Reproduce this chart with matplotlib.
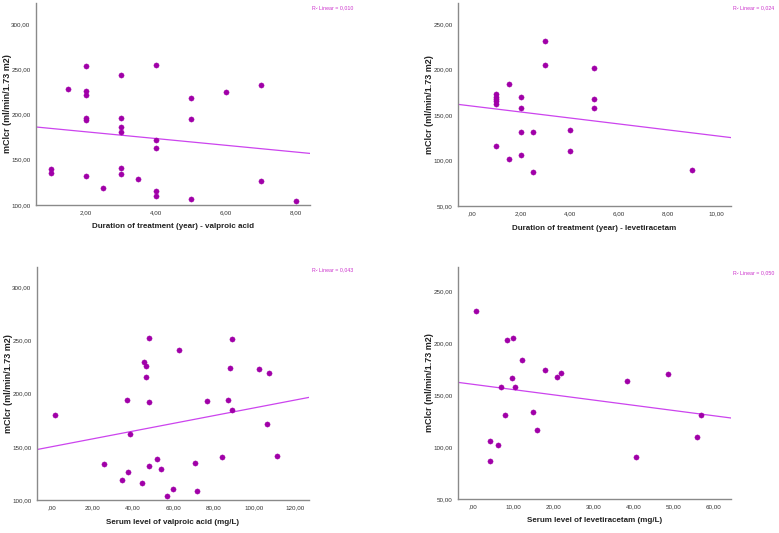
import numpy as np
import matplotlib
matplotlib.use("Agg")
import matplotlib.pyplot as plt

plt.rcParams['font.family'] = ['Liberation Sans', 'DejaVu Sans']

# Panel 1: duration of treatment - valproic acid
vpa_dur_x = [1, 1, 1.5, 2, 2, 2, 2, 2, 2, 2.5, 3, 3, 3, 3, 3, 3, 3.5,
             4, 4, 4, 4, 4, 5, 5, 5, 6, 7, 7, 8]
vpa_dur_y = [140, 135, 228, 254, 226, 221, 196, 194, 132, 119, 243, 196, 186, 181, 141, 134, 129,
             255, 172, 163, 116, 110, 218, 195, 107, 225, 232, 126, 104]

# Panel 2: duration of treatment - levetiracetam
lev_dur_x = [1, 1, 1, 1, 1, 1, 1.5, 1.5, 2, 2, 2, 2, 2.5, 2.5, 3, 3, 4, 4, 5, 5, 5, 9]
lev_dur_y = [173, 170, 167, 165, 162, 116, 184, 102, 170, 158, 131, 106, 131, 87,
             231, 205, 134, 110, 202, 167, 158, 90]

# Panel 3: serum level of valproic acid
vpa_lvl_x = [1.5, 25.8, 34.8, 37.8, 37.3, 38.9, 44.8, 45.5, 46.8, 46.8, 47.9, 47.9, 47.9,
             51.9, 54, 57, 59.8, 62.9, 70.9, 71.9, 76.8, 83.9, 87, 88, 89, 89.2,
             102.1, 106.2, 107.2, 111.2]
vpa_lvl_y = [180, 134, 119, 126, 194, 162, 116, 230, 226, 216, 252, 192, 132,
             139, 129, 104, 110, 241, 135, 108, 193, 140, 194, 224, 251, 185,
             223, 171, 219, 141]

# Panel 4: serum level of levetiracetam
lev_lvl_x = [0.8, 4.25, 4.25, 6.2, 7.0, 7.9, 8.4, 9.6, 9.9, 10.4, 12.2, 14.9, 16, 17.9,
             21, 21.9, 38.4, 40.5, 48.6, 55.75, 56.75]
lev_lvl_y = [231, 106, 87, 102, 158, 131, 203, 166, 205, 158, 184, 134, 116, 174,
             167, 171, 163, 90, 170, 110, 131]

r2_labels = ["R² Linear = 0,010", "R² Linear = 0,024", "R² Linear = 0,043", "R² Linear = 0,050"]
xlabels = ["Duration of treatment (year) - valproic acid",
           "Duration of treatment (year) - levetiracetam",
           "Serum level of valproic acid (mg/L)",
           "Serum level of levetiracetam (mg/L)"]
ylabel = "mClcr (ml/min/1.73 m2)"

W, H = 779, 533
fig = plt.figure(figsize=(W / 100, H / 100), dpi=100)
fig.patch.set_facecolor('white')


def fmt(v, pos=None):
    s = f"{v:.2f}".replace('.', ',')
    if s.startswith('0,'):
        s = s[1:]
    return s


panels = [
    dict(rect=(36, 3, 310, 205), x=vpa_dur_x, y=vpa_dur_y, xlim=(0.58, 8.4), ylim=(100, 323),
         xt=[2, 4, 6, 8], yt=[100, 150, 200, 250, 300], r2pos=(312, 8)),
    dict(rect=(458, 3, 731, 206), x=lev_dur_x, y=lev_dur_y, xlim=(-0.575, 10.6), ylim=(50, 273),
         xt=[0, 2, 4, 6, 8, 10], yt=[50, 100, 150, 200, 250], r2pos=(733, 8)),
    dict(rect=(37, 267, 309, 500), x=vpa_lvl_x, y=vpa_lvl_y, xlim=(-7.2, 127), ylim=(100, 319),
         xt=[0, 20, 40, 60, 80, 100, 120], yt=[100, 150, 200, 250, 300], r2pos=(312, 270)),
    dict(rect=(458, 267, 731, 499), x=lev_lvl_x, y=lev_lvl_y, xlim=(-3.75, 64.3), ylim=(50, 273),
         xt=[0, 10, 20, 30, 40, 50, 60], yt=[50, 100, 150, 200, 250], r2pos=(733, 273)),
]

for i, p in enumerate(panels):
    l, t, r, b = p['rect']
    wpx, hpx = r - l, b - t
    ax = fig.add_axes([l / W, 1 - b / H, wpx / W, hpx / H])
    x = np.array(p['x'], dtype=float)
    y = np.array(p['y'], dtype=float)
    ax.scatter(x, y, s=14, color='#a000a8', edgecolors='#a000a8', linewidths=0.3, zorder=3)
    k, c = np.polyfit(x, y, 1)
    xs = np.array(p['xlim'])
    ax.plot(xs, k * xs + c, color='#cc44ee', lw=0.9, zorder=2)
    ax.set_xlim(*p['xlim'])
    ax.set_ylim(*p['ylim'])
    ax.set_xticks(p['xt'])
    ax.set_yticks(p['yt'])
    ax.xaxis.set_major_formatter(plt.FuncFormatter(fmt))
    ax.yaxis.set_major_formatter(plt.FuncFormatter(fmt))
    ax.tick_params(length=0, labelsize=4.5, colors='#333333', pad=4)
    for s in ['top', 'right']:
        ax.spines[s].set_visible(False)
    for s in ['left', 'bottom']:
        ax.spines[s].set_color('#8a8a8a')
        ax.spines[s].set_linewidth(1.0)
    ax.set_xlabel(xlabels[i], fontsize=5.8, fontweight='bold', color='#222222', va='center')
    ax.xaxis.set_label_coords(0.5, -22 / hpx)
    ax.set_ylabel(ylabel, fontsize=6.5, fontweight='bold', color='#222222', va='center')
    ax.yaxis.set_label_coords(-28 / wpx, 0.5)
    fig.text(p['r2pos'][0] / W, 1 - p['r2pos'][1] / H, r2_labels[i], fontsize=3.8,
             color='#cc33cc', ha='left', va='center')

fig.savefig('out.png', dpi=100, facecolor='white')
